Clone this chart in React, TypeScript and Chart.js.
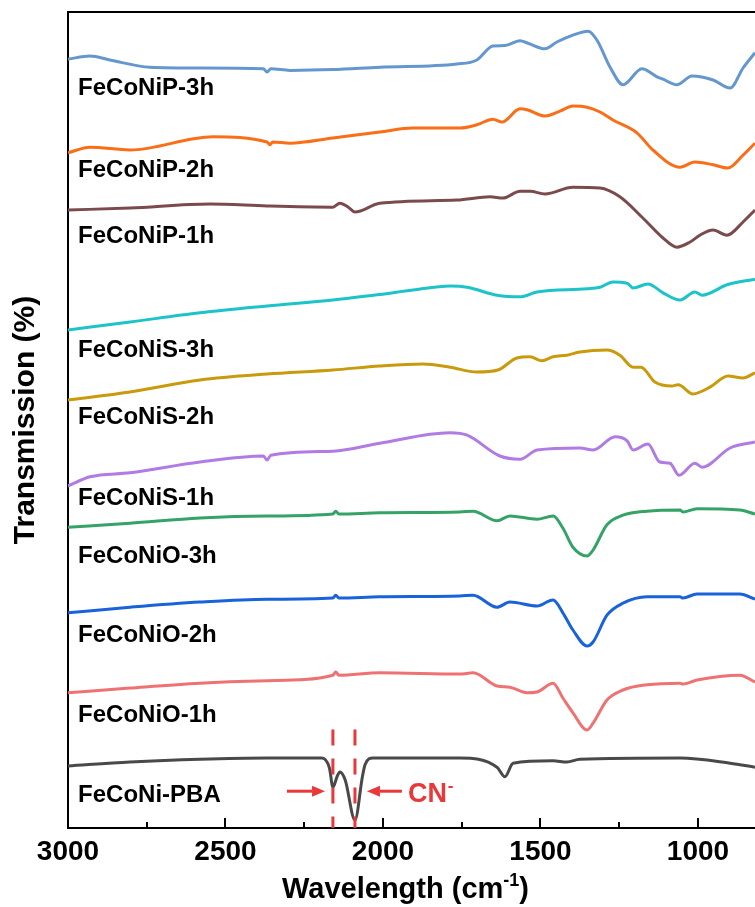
import { useEffect, useRef } from "react";
import { Chart, registerables } from "chart.js";

Chart.register(...registerables);

const FONT = '"Liberation Sans", Arial, Helvetica, sans-serif';
const RED = "#E8383A";

// ---------- data (wavenumber in cm-1, transmission offset in a.u.) ----------
const wnP3h = [3000, 2930, 2867, 2740, 2581, 2380, 2368, 2356, 2295, 2159, 2010, 1765, 1702, 1651, 1613, 1565, 1540, 1486, 1448, 1397, 1349, 1321, 1279, 1238, 1178, 1130, 1111, 1067, 1019, 952, 898, 857, 819];
const tP3h = [96.1, 96.5, 96.0, 95.1, 95.0, 94.9, 94.5, 94.9, 94.7, 94.8, 95.1, 95.5, 96.0, 97.75, 97.8, 98.4, 98.1, 97.4, 98.25, 99.1, 99.6, 98.5, 95.1, 92.9, 94.9, 93.9, 93.6, 92.9, 94.0, 93.5, 92.5, 95.0, 96.9];

const wnP2h = [3000, 2930, 2803, 2540, 2368, 2359, 2350, 2295, 2159, 2010, 1905, 1756, 1702, 1651, 1622, 1565, 1540, 1486, 1438, 1397, 1352, 1311, 1270, 1194, 1143, 1057, 1010, 952, 905, 857, 819];
const tP2h = [84.4, 85.1, 84.75, 86.4, 85.75, 85.4, 85.75, 85.6, 86.25, 87.0, 87.5, 87.5, 87.9, 88.6, 88.25, 89.9, 89.75, 89.0, 89.6, 90.25, 90.1, 89.5, 88.5, 86.9, 84.75, 82.6, 83.25, 82.9, 82.5, 84.1, 85.6];

const wnP1h = [3000, 2803, 2549, 2368, 2159, 2137, 2110, 2089, 2010, 1765, 1660, 1619, 1565, 1533, 1486, 1397, 1311, 1248, 1175, 1111, 1067, 1025, 994, 952, 908, 857, 819];
const tP1h = [77.25, 77.5, 78.0, 77.75, 77.6, 78.1, 77.6, 77.0, 78.1, 78.5, 78.9, 78.75, 79.6, 79.6, 79.25, 80.1, 80.0, 78.9, 76.25, 73.75, 72.6, 73.25, 74.1, 74.75, 74.1, 75.75, 77.25];

const wnS3h = [3000, 2803, 2581, 2368, 2159, 2010, 1905, 1787, 1733, 1638, 1565, 1511, 1352, 1311, 1270, 1225, 1206, 1159, 1111, 1057, 1010, 987, 908, 819];
const tS3h = [62.25, 63.25, 64.4, 65.25, 66.0, 66.7, 67.25, 67.75, 67.6, 66.6, 66.4, 67.0, 67.4, 67.6, 68.25, 68.1, 67.5, 68.0, 66.9, 66.0, 67.0, 66.6, 67.9, 68.6];

const wnS2h = [3000, 2803, 2581, 2368, 2159, 2010, 1873, 1787, 1702, 1635, 1575, 1533, 1495, 1460, 1416, 1375, 1289, 1248, 1206, 1181, 1137, 1083, 1063, 1016, 962, 905, 857, 819];
const tS2h = [53.5, 54.5, 56.0, 56.75, 57.25, 57.75, 58.0, 57.6, 57.0, 57.25, 58.75, 58.9, 58.4, 58.9, 59.1, 59.5, 59.75, 59.1, 57.6, 57.6, 55.75, 55.25, 55.4, 54.25, 55.1, 56.5, 56.25, 56.9];

const wnS1h = [3000, 2930, 2803, 2581, 2380, 2368, 2356, 2159, 2010, 1787, 1733, 1629, 1565, 1511, 1375, 1333, 1263, 1225, 1206, 1159, 1121, 1089, 1060, 1010, 987, 898, 819];
const tS1h = [42.75, 43.9, 44.4, 45.75, 46.5, 46.0, 46.6, 47.1, 48.1, 49.4, 49.1, 46.5, 46.1, 47.25, 47.5, 47.25, 48.9, 48.4, 47.25, 48.0, 45.75, 45.6, 44.1, 45.6, 45.1, 47.5, 48.25];

const wnO3h = [3000, 2803, 2581, 2368, 2159, 2150, 2140, 2010, 1756, 1714, 1638, 1597, 1511, 1460, 1429, 1397, 1352, 1333, 1289, 1238, 1162, 1057, 1048, 1003, 867, 819];
const tO3h = [37.6, 38.1, 38.75, 39.0, 39.25, 39.6, 39.25, 39.4, 39.5, 39.6, 38.4, 39.0, 38.6, 39.0, 37.5, 35.1, 34.0, 34.75, 37.9, 39.1, 39.6, 39.75, 39.5, 39.9, 39.75, 39.25];

const wnO2h = [3000, 2803, 2581, 2368, 2159, 2150, 2140, 2010, 1756, 1714, 1638, 1597, 1511, 1460, 1429, 1397, 1352, 1333, 1289, 1238, 1162, 1057, 1048, 1003, 867, 819];
const tO2h = [26.9, 27.6, 28.25, 28.6, 28.75, 29.1, 28.75, 28.9, 29.0, 29.1, 27.6, 28.25, 27.75, 28.5, 26.9, 24.75, 22.75, 23.25, 26.6, 28.1, 28.9, 28.9, 28.75, 29.25, 29.25, 28.6];

const wnO1h = [3000, 2803, 2581, 2368, 2159, 2150, 2140, 2010, 1756, 1714, 1638, 1597, 1543, 1511, 1460, 1429, 1397, 1352, 1333, 1289, 1238, 1162, 1057, 1048, 1003, 867, 819];
const tO1h = [16.9, 17.5, 18.1, 18.4, 19.1, 19.5, 19.1, 19.4, 19.25, 19.4, 17.75, 17.6, 16.9, 17.0, 18.1, 16.25, 14.4, 12.25, 13.1, 16.0, 17.25, 17.9, 18.1, 18.0, 18.5, 19.1, 18.25];

const wnPBA = [3000, 2803, 2581, 2368, 2194, 2170, 2159, 2145, 2137, 2120, 2089, 2065, 2057, 2032, 2010, 1756, 1638, 1613, 1587, 1460, 1416, 1375, 1057, 898, 819];
const tPBA = [7.75, 8.25, 8.6, 8.75, 8.75, 7.5, 5.1, 6.5, 7.0, 6.0, 1.0, 6.5, 7.9, 8.75, 8.75, 8.75, 7.6, 6.4, 8.1, 8.4, 8.25, 8.6, 8.75, 8.1, 7.6];

const seriesNames = ["FeCoNiP-3h", "FeCoNiP-2h", "FeCoNiP-1h", "FeCoNiS-3h", "FeCoNiS-2h", "FeCoNiS-1h", "FeCoNiO-3h", "FeCoNiO-2h", "FeCoNiO-1h", "FeCoNi-PBA"];
const seriesColors = ["#6497CD", "#F96E16", "#7B4A4C", "#1CC3C8", "#C99A0C", "#B07BE3", "#35A367", "#1862DA", "#EE7272", "#494949"];
const seriesWn = [wnP3h, wnP2h, wnP1h, wnS3h, wnS2h, wnS1h, wnO3h, wnO2h, wnO1h, wnPBA];
const seriesT = [tP3h, tP2h, tP1h, tS3h, tS2h, tS1h, tO3h, tO2h, tO1h, tPBA];

// label anchors (in data units)
const labelWn = 2968;
const labelT = [91.6, 81.4, 73.1, 58.9, 50.5, 40.4, 33.1, 23.25, 13.25, 3.25];

// axis
const xMin = 819;
const xMax = 3000;
const yMin = 0;
const yMax = 102;
const majorTicks = [3000, 2500, 2000, 1500, 1000];
const minorTicks = [2750, 2250, 1750, 1250];

// CN- annotation
const cnPeaks = [2159, 2089];
const cnDashTop = 12.3;
const cnArrowLeft = [2305, 2184];
const cnArrowRight = [1940, 2051];
const cnArrowT = 4.6;
const cnTextWn = 1921;
const cnTextT = 3.25;

function drawArrow(ctx: CanvasRenderingContext2D, x1: number, x2: number, y: number) {
  const dir = x2 > x1 ? 1 : -1;
  const head = 13;
  const half = 5.5;
  ctx.beginPath();
  ctx.moveTo(x1, y);
  ctx.lineTo(x2 - dir * head, y);
  ctx.stroke();
  ctx.beginPath();
  ctx.moveTo(x2, y);
  ctx.lineTo(x2 - dir * head, y - half);
  ctx.lineTo(x2 - dir * head, y + half);
  ctx.closePath();
  ctx.fill();
}

const decorPlugin = {
  id: "decor",
  afterDatasetsDraw(chart: any) {
    const { ctx, scales } = chart;
    const xs = scales.x;
    const ys = scales.y;
    ctx.save();
    ctx.font = `bold 24px ${FONT}`;
    ctx.fillStyle = "#000";
    ctx.textAlign = "left";
    ctx.textBaseline = "alphabetic";
    seriesNames.forEach((n, i) => {
      ctx.fillText(n, xs.getPixelForValue(labelWn), ys.getPixelForValue(labelT[i]));
    });
    ctx.strokeStyle = RED;
    ctx.fillStyle = RED;
    ctx.lineWidth = 3;
    ctx.setLineDash([16, 13]);
    cnPeaks.forEach((p) => {
      const x = xs.getPixelForValue(p);
      ctx.beginPath();
      ctx.moveTo(x, ys.getPixelForValue(cnDashTop));
      ctx.lineTo(x, ys.getPixelForValue(yMin));
      ctx.stroke();
    });
    ctx.setLineDash([]);
    const ay = ys.getPixelForValue(cnArrowT);
    drawArrow(ctx, xs.getPixelForValue(cnArrowLeft[0]), xs.getPixelForValue(cnArrowLeft[1]), ay);
    drawArrow(ctx, xs.getPixelForValue(cnArrowRight[0]), xs.getPixelForValue(cnArrowRight[1]), ay);
    const tx = xs.getPixelForValue(cnTextWn);
    const ty = ys.getPixelForValue(cnTextT);
    ctx.font = `bold 27px ${FONT}`;
    ctx.fillText("CN", tx, ty);
    const w = ctx.measureText("CN").width;
    ctx.font = `bold 17px ${FONT}`;
    ctx.fillText("-", tx + w + 1, ty - 11);
    ctx.restore();
  },
  afterDraw(chart: any) {
    const { ctx, chartArea, scales } = chart;
    const xs = scales.x;
    ctx.save();
    ctx.strokeStyle = "#000";
    ctx.lineWidth = 2;
    ctx.beginPath();
    ctx.moveTo(chartArea.left - 1, chartArea.top);
    ctx.lineTo(chartArea.right + 1, chartArea.top);
    ctx.stroke();
    const b = chartArea.bottom;
    majorTicks.forEach((v) => {
      const x = Math.round(xs.getPixelForValue(v));
      ctx.beginPath();
      ctx.moveTo(x, b);
      ctx.lineTo(x, b - 10);
      ctx.stroke();
    });
    minorTicks.forEach((v) => {
      const x = Math.round(xs.getPixelForValue(v));
      ctx.beginPath();
      ctx.moveTo(x, b);
      ctx.lineTo(x, b - 6);
      ctx.stroke();
    });
    const main = "Wavelength (cm";
    const sup = "-1";
    const close = ")";
    ctx.fillStyle = "#000";
    ctx.textBaseline = "alphabetic";
    ctx.textAlign = "left";
    ctx.font = `bold 29px ${FONT}`;
    const wMain = ctx.measureText(main).width;
    const wClose = ctx.measureText(close).width;
    ctx.font = `bold 18px ${FONT}`;
    const wSup = ctx.measureText(sup).width;
    const total = wMain + wSup + wClose;
    const cx = (chartArea.left + chartArea.right) / 2 - 6;
    const x0 = cx - total / 2;
    const by = 898;
    ctx.font = `bold 29px ${FONT}`;
    ctx.fillText(main, x0, by);
    ctx.font = `bold 18px ${FONT}`;
    ctx.fillText(sup, x0 + wMain, by - 12);
    ctx.font = `bold 29px ${FONT}`;
    ctx.fillText(close, x0 + wMain + wSup, by);
    ctx.restore();
  },
};

export default function App() {
  const ref = useRef<HTMLCanvasElement | null>(null);
  useEffect(() => {
    if (!ref.current) return;
    const datasets = seriesNames.map((name, i) => ({
      label: name,
      data: seriesWn[i].map((w, j) => ({ x: w, y: seriesT[i][j] })),
      borderColor: seriesColors[i],
      backgroundColor: seriesColors[i],
      borderWidth: 3,
      pointRadius: 0,
      cubicInterpolationMode: "monotone" as const,
      fill: false,
    }));
    const chart = new Chart(ref.current, {
      type: "line",
      data: { datasets },
      options: {
        animation: false,
        responsive: false,
        devicePixelRatio: 1,
        layout: { padding: { top: 12, left: 0, right: 0, bottom: 0 } },
        plugins: { legend: { display: false }, tooltip: { enabled: false } },
        scales: {
          x: {
            type: "linear",
            reverse: true,
            min: xMin,
            max: xMax,
            grid: { display: false, drawTicks: false },
            border: { display: true, color: "#000", width: 2 },
            ticks: {
              maxRotation: 0,
              autoSkip: false,
              padding: 7,
              color: "#000",
              font: { family: FONT, size: 28, weight: "bold" },
              callback: (v: any) => String(v),
            },
            afterBuildTicks: (s: any) => {
              s.ticks = majorTicks.map((v) => ({ value: v }));
            },
            afterFit: (s: any) => {
              s.height = 79;
            },
          },
          y: {
            type: "linear",
            min: yMin,
            max: yMax,
            grid: { display: false, drawTicks: false },
            border: { display: true, color: "#000", width: 2 },
            ticks: { display: false },
            title: {
              display: true,
              text: "Transmission (%)",
              color: "#000",
              font: { family: FONT, size: 30, weight: "bold" },
              padding: { top: 8, bottom: 0 },
            },
            afterFit: (s: any) => {
              s.width = 68;
            },
          },
        },
      },
      plugins: [decorPlugin],
    });
    return () => chart.destroy();
  }, []);
  return (
    <div style={{ position: "absolute", left: 0, top: 0, width: 755, height: 907, background: "#fff" }}>
      <canvas ref={ref} width={755} height={907} style={{ display: "block" }} />
    </div>
  );
}
